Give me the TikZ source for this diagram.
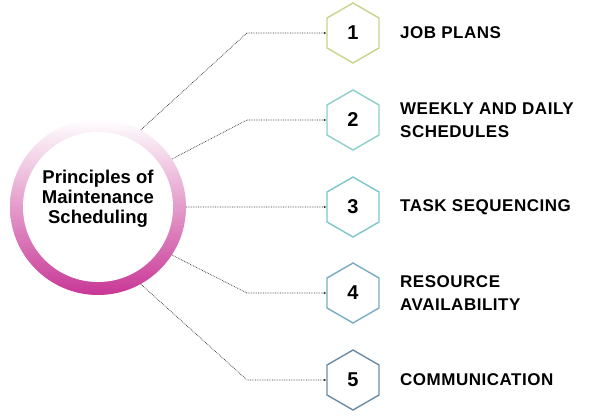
\documentclass[tikz,border=0pt]{standalone}
\usepackage{fontspec}
\setmainfont{Liberation Sans}
\newfontfamily\steplabel[LetterSpace=3]{Liberation Sans}
\usetikzlibrary{shapes.geometric, arrows.meta, positioning}
\definecolor{ringmagenta}{RGB}{200, 55, 150}
\definecolor{hexlime}{RGB}{200, 212, 140}
\definecolor{hexmint}{RGB}{140, 208, 200}
\definecolor{hexteal}{RGB}{125, 198, 204}
\definecolor{hexsteel}{RGB}{120, 172, 192}
\definecolor{hexslate}{RGB}{108, 140, 165}

\begin{document}
\begin{tikzpicture}[
    x=1pt, y=-1pt,
    hubring/.style={circle, minimum size=176pt, inner sep=0pt, top color=white, middle color=ringmagenta!35, bottom color=ringmagenta},
    hubcore/.style={circle, minimum size=150pt, inner sep=0pt, fill=white},
    hubtext/.style={align=center, font=\bfseries\fontsize{18.5}{20}\selectfont},
    hexbox/.style={regular polygon, regular polygon sides=6, shape border rotate=30, minimum size=60pt, inner sep=0pt, line width=1.4pt, fill=white, font=\bfseries\fontsize{20}{24}\selectfont},
    steptext/.style={anchor=west, align=left, inner sep=2pt, font=\steplabel\bfseries\fontsize{17}{23}\selectfont},
    conn/.style={densely dotted, line width=0.7pt, gray!35!black, -{Latex[length=2.5pt, width=2.5pt]}}
  ]
  \useasboundingbox (0,0) rectangle (600,418);

  % Hub
  \node[hubring] (hub) at (98,207) {};
  \node[hubcore] (core) at (hub.center) {};
  \node[hubtext] (title) at (98,199) {Principles of\\Maintenance\\Scheduling};

  % Steps
  \node[hexbox, draw=hexlime] (hex1) at (353,33) {1};
  \node[hexbox, draw=hexmint] (hex2) at (353,120) {2};
  \node[hexbox, draw=hexteal] (hex3) at (353,207) {3};
  \node[hexbox, draw=hexsteel] (hex4) at (353,293) {4};
  \node[hexbox, draw=hexslate] (hex5) at (353,380) {5};

  \node[steptext] (lab1) at (398,33) {JOB PLANS};
  \node[steptext] (lab2) at (398,120) {WEEKLY AND DAILY\\SCHEDULES};
  \node[steptext] (lab3) at (398,207) {TASK SEQUENCING};
  \node[steptext] (lab4) at (398,293) {RESOURCE\\AVAILABILITY};
  \node[steptext] (lab5) at (398,380) {COMMUNICATION};

  % Elbows
  \coordinate (bend1) at (247,33);
  \coordinate (bend2) at (247,120);
  \coordinate (bend4) at (247,293);
  \coordinate (bend5) at (247,380);

  % Connections
  \draw[conn] (hub.61) -- (bend1) -- (hex1.west);
  \draw[conn] (hub.33) -- (bend2) -- (hex2.west);
  \draw[conn] (hub.east) -- (hex3.west);
  \draw[conn] (hub.-33) -- (bend4) -- (hex4.west);
  \draw[conn] (hub.-61) -- (bend5) -- (hex5.west);
\end{tikzpicture}
\end{document}
